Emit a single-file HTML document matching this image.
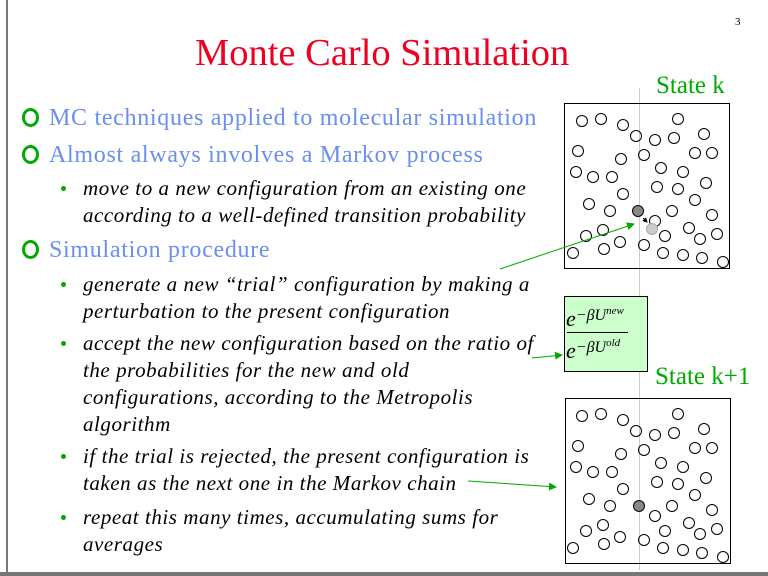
<!DOCTYPE html>
<html><head><style>
body{margin:0;width:768px;height:576px;background:#fff;position:relative;overflow:hidden;font-family:"Liberation Serif",serif}
.t{position:absolute;white-space:nowrap;line-height:1}
.m{font-size:24px;color:#6a8ff0;letter-spacing:0.7px}
.s{font-size:21px;font-style:italic;color:#000;letter-spacing:0.55px}
.o{position:absolute;width:11px;height:13px;border:3px solid #00aa00;border-radius:50%}
.d{position:absolute;width:5px;height:5px;background:#00aa00;border-radius:50%}
</style></head><body>
<div style="position:absolute;left:6px;top:0;width:2px;height:576px;background:#777"></div>
<div style="position:absolute;left:0;top:572px;width:768px;height:4px;background:#777"></div>
<div class="t" style="left:735px;top:17px;font-size:11px">3</div>
<div class="t" style="left:195px;top:34px;font-size:38.5px;color:#ee0022">Monte Carlo Simulation</div>

<div class="o" style="left:22px;top:108px"></div><div class="t m" style="left:49px;top:106px">MC techniques applied to molecular simulation</div>
<div class="o" style="left:22px;top:145px"></div><div class="t m" style="left:49px;top:143px">Almost always involves a Markov process</div>
<div class="d" style="left:61px;top:186px"></div><div class="t s" style="left:83px;top:178px">move to a new configuration from an existing one</div>
<div class="t s" style="left:83px;top:205px">according to a well-defined transition probability</div>
<div class="o" style="left:22px;top:240px"></div><div class="t m" style="left:49px;top:238px">Simulation procedure</div>
<div class="d" style="left:61px;top:282px"></div><div class="t s" style="left:83px;top:274px">generate a new “trial” configuration by making a</div>
<div class="t s" style="left:83px;top:301px">perturbation to the present configuration</div>
<div class="d" style="left:61px;top:341px"></div><div class="t s" style="left:83px;top:333px">accept the new configuration based on the ratio of</div>
<div class="t s" style="left:83px;top:360px">the probabilities for the new and old</div>
<div class="t s" style="left:83px;top:387px">configurations, according to the Metropolis</div>
<div class="t s" style="left:83px;top:414px">algorithm</div>
<div class="d" style="left:61px;top:454px"></div><div class="t s" style="left:83px;top:446px">if the trial is rejected, the present configuration is</div>
<div class="t s" style="left:83px;top:473px">taken as the next one in the Markov chain</div>
<div class="d" style="left:61px;top:515px"></div><div class="t s" style="left:83px;top:507px">repeat this many times, accumulating sums for</div>
<div class="t s" style="left:83px;top:534px">averages</div>

<div class="t" style="left:656px;top:73px;font-size:25px;color:#00aa00">State k</div>
<div class="t" style="left:655px;top:364px;font-size:25px;color:#00aa00">State k+1</div>

<svg style="position:absolute;left:0;top:0" width="768" height="576">
<defs>
<marker id="a" markerWidth="8" markerHeight="8" refX="7" refY="4" orient="auto" markerUnits="userSpaceOnUse"><path d="M0,0 L8,4 L0,8z" fill="#00aa00"/></marker>
<marker id="b" markerWidth="5" markerHeight="5" refX="4" refY="2.5" orient="auto" markerUnits="userSpaceOnUse"><path d="M0,0 L5,2.5 L0,5z" fill="#000"/></marker>
<g id="c" fill="none" stroke="#000" stroke-width="1">
<circle cx="582" cy="121" r="5.5"/><circle cx="601" cy="119" r="5.5"/><circle cx="623" cy="125" r="5.5"/><circle cx="636" cy="136" r="5.5"/><circle cx="655" cy="140" r="5.5"/><circle cx="674" cy="138" r="5.5"/><circle cx="678" cy="119" r="5.5"/><circle cx="704" cy="134" r="5.5"/><circle cx="578" cy="151" r="5.5"/><circle cx="621" cy="159" r="5.5"/><circle cx="644" cy="155" r="5.5"/><circle cx="695" cy="153" r="5.5"/><circle cx="712" cy="153" r="5.5"/><circle cx="576" cy="172" r="5.5"/><circle cx="593" cy="177" r="5.5"/><circle cx="612" cy="177" r="5.5"/><circle cx="661" cy="168" r="5.5"/><circle cx="683" cy="172" r="5.5"/><circle cx="706" cy="183" r="5.5"/><circle cx="657" cy="187" r="5.5"/><circle cx="678" cy="189" r="5.5"/><circle cx="623" cy="194" r="5.5"/><circle cx="589" cy="204" r="5.5"/><circle cx="610" cy="211" r="5.5"/><circle cx="672" cy="211" r="5.5"/><circle cx="695" cy="200" r="5.5"/><circle cx="712" cy="215" r="5.5"/><circle cx="655" cy="221" r="5.5"/><circle cx="689" cy="228" r="5.5"/><circle cx="700" cy="239" r="5.5"/><circle cx="717" cy="234" r="5.5"/><circle cx="603" cy="230" r="5.5"/><circle cx="586" cy="236" r="5.5"/><circle cx="620" cy="242" r="5.5"/><circle cx="644" cy="245" r="5.5"/><circle cx="665" cy="236" r="5.5"/><circle cx="604" cy="249" r="5.5"/><circle cx="573" cy="253" r="5.5"/><circle cx="663" cy="253" r="5.5"/><circle cx="683" cy="255" r="5.5"/><circle cx="702" cy="258" r="5.5"/><circle cx="723" cy="262" r="5.5"/>
</g>
</defs>
<line x1="639.5" y1="88" x2="639.5" y2="570" stroke="#ccc" stroke-width="1"/>
<rect x="564.5" y="103.5" width="165" height="165" fill="none" stroke="#000"/>
<use href="#c"/>
<circle cx="638" cy="211" r="5.5" fill="#888" stroke="#000"/>
<circle cx="652" cy="229" r="5.5" fill="#ccc" stroke="#aaa"/>
<line x1="643" y1="218" x2="647" y2="222" stroke="#000" marker-end="url(#b)"/>
<rect x="565.5" y="398.5" width="165" height="165" fill="none" stroke="#000"/>
<use href="#c" transform="translate(0,295)"/>
<circle cx="639" cy="506" r="5.5" fill="#888" stroke="#000"/>
<rect x="564.5" y="296.5" width="83" height="75" fill="#ccffcc" stroke="#000"/>
<text x="566" y="326" font-family="Liberation Serif" font-style="italic" font-size="22">e<tspan font-size="16" dy="-6">−βU</tspan><tspan font-size="11" dy="-6">new</tspan></text>
<line x1="567" y1="332.5" x2="628" y2="332.5" stroke="#000"/>
<text x="566" y="358" font-family="Liberation Serif" font-style="italic" font-size="22">e<tspan font-size="16" dy="-6">−βU</tspan><tspan font-size="11" dy="-6">old</tspan></text>
<line x1="500" y1="269" x2="634" y2="224" stroke="#00aa00" marker-end="url(#a)"/>
<line x1="532" y1="358" x2="562" y2="355" stroke="#00aa00" marker-end="url(#a)"/>
<line x1="468" y1="481" x2="556" y2="487" stroke="#00aa00" marker-end="url(#a)"/>
</svg>
</body></html>
